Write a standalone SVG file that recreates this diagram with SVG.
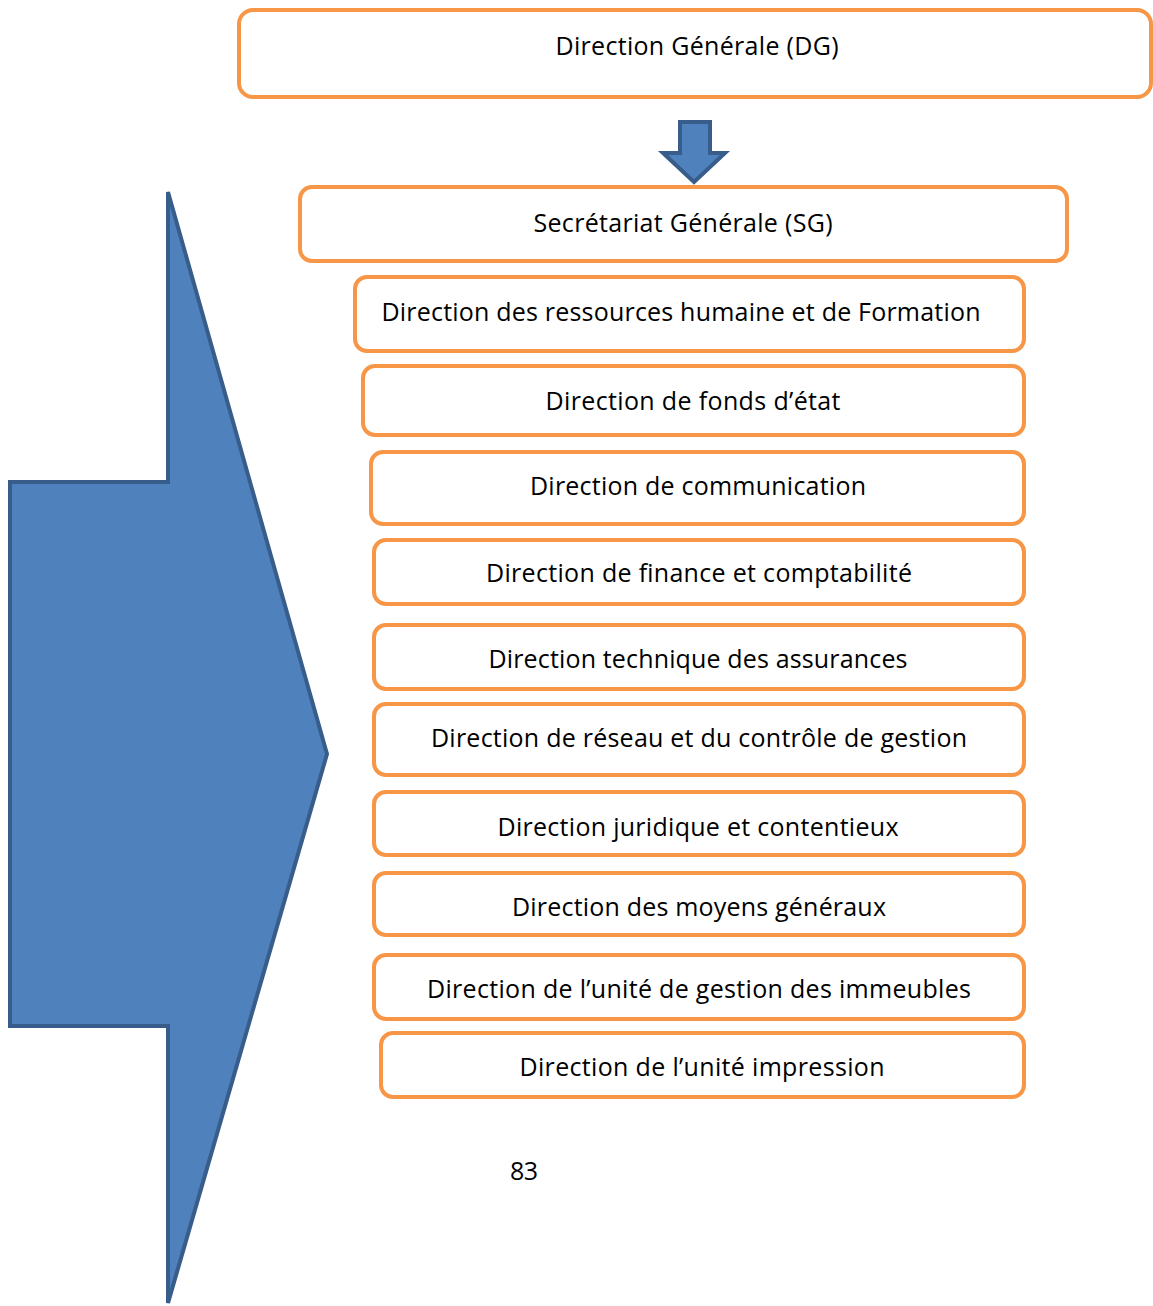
<svg xmlns="http://www.w3.org/2000/svg" width="1153" height="1306" viewBox="0 0 1153 1306">
<style>
.box{fill:#fff;stroke:#f79646;stroke-width:4}
.t{font-family:"Open Sans","Noto Sans","Liberation Sans",sans-serif;font-size:25px;fill:#000;text-anchor:middle}
.arrow{fill:#4f81bd;stroke:#385d8a;stroke-width:4;stroke-linejoin:miter}
</style>
<rect width="1153" height="1306" fill="#fff"/>
<g id="big-arrow"><polygon class="arrow" points="168,192 327,754 168,1303 168,1026 10,1026 10,482 168,482"/></g>
<g id="connectors"><polygon class="arrow" stroke-width="3" points="680,122 710,122 710,153 725,153 694,182 663,153 680,153"/></g>
<g id="dg"><rect class="box" x="239" y="10" width="912" height="87" rx="14"/><text class="t" x="697" y="55" textLength="283">Direction Générale (DG)</text></g>
<g id="sg"><rect class="box" x="300" y="187" width="767" height="74" rx="12"/><text class="t" x="683" y="232" textLength="299">Secrétariat Générale (SG)</text></g>
<g id="rh"><rect class="box" x="355" y="277" width="669" height="74" rx="12"/><text class="t" x="681" y="321" textLength="599">Direction des ressources humaine et de Formation</text></g>
<g id="fonds"><rect class="box" x="363" y="366" width="661" height="69" rx="12"/><text class="t" x="693" y="410" textLength="295">Direction de fonds d’état</text></g>
<g id="comm"><rect class="box" x="371" y="452" width="653" height="72" rx="12"/><text class="t" x="698" y="495" textLength="336">Direction de communication</text></g>
<g id="finance"><rect class="box" x="374" y="540" width="650" height="64" rx="12"/><text class="t" x="699" y="582" textLength="426">Direction de finance et comptabilité</text></g>
<g id="technique"><rect class="box" x="374" y="625" width="650" height="64" rx="12"/><text class="t" x="698" y="668" textLength="419">Direction technique des assurances</text></g>
<g id="reseau"><rect class="box" x="374" y="704" width="650" height="71" rx="12"/><text class="t" x="699" y="747" textLength="536">Direction de réseau et du contrôle de gestion</text></g>
<g id="juridique"><rect class="box" x="374" y="792" width="650" height="63" rx="12"/><text class="t" x="698" y="836" textLength="401">Direction juridique et contentieux</text></g>
<g id="moyens"><rect class="box" x="374" y="873" width="650" height="62" rx="12"/><text class="t" x="699" y="916" textLength="374">Direction des moyens généraux</text></g>
<g id="immeubles"><rect class="box" x="374" y="955" width="650" height="64" rx="12"/><text class="t" x="699" y="998" textLength="544">Direction de l’unité de gestion des immeubles</text></g>
<g id="impression"><rect class="box" x="381" y="1033" width="643" height="64" rx="12"/><text class="t" x="702" y="1076" textLength="365">Direction de l’unité impression</text></g>
<text class="t" x="524" y="1180" textLength="28">83</text>
</svg>
